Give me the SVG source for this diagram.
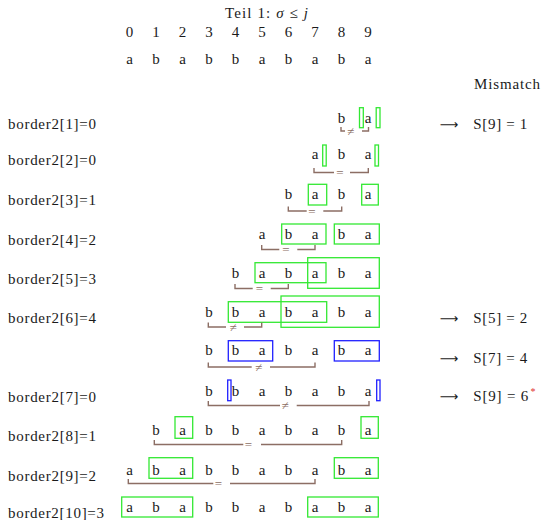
<svg xmlns="http://www.w3.org/2000/svg" width="541" height="520" viewBox="0 0 541 520">
<style>
text{font-family:"Liberation Serif","DejaVu Serif","Times New Roman",serif;fill:#1a1a1a;font-size:15px}
.c{text-anchor:middle}
.g{fill:none;stroke:#33e833;stroke-width:1.3}
.b{fill:none;stroke:#2020ff;stroke-width:1.3}
.br{fill:none;stroke:#8c6e64;stroke-width:1.4}
.sy{fill:#8c6e64;font-size:13px;text-anchor:middle}
.ar{text-anchor:middle;font-family:"DejaVu Sans",sans-serif;font-size:13px}
.st{fill:#e03030;font-size:10px}
</style>
<rect width="541" height="520" fill="#fff"/>
<g id="header">
<text x="266.5" y="18.3" class="c" textLength="83">Teil 1: <tspan font-style="italic">σ</tspan> ≤ <tspan font-style="italic">j</tspan></text>
<g class="idx">
<text x="129.5" y="37.3" class="c">0</text><text x="156" y="37.3" class="c">1</text><text x="182.5" y="37.3" class="c">2</text><text x="209" y="37.3" class="c">3</text><text x="235.5" y="37.3" class="c">4</text><text x="262" y="37.3" class="c">5</text><text x="288.5" y="37.3" class="c">6</text><text x="315" y="37.3" class="c">7</text><text x="341.5" y="37.3" class="c">8</text><text x="368" y="37.3" class="c">9</text>
</g>
<g class="txt">
<text x="129.5" y="64" class="c">a</text><text x="156" y="64" class="c">b</text><text x="182.5" y="64" class="c">a</text><text x="209" y="64" class="c">b</text><text x="235.5" y="64" class="c">b</text><text x="262" y="64" class="c">a</text><text x="288.5" y="64" class="c">b</text><text x="315" y="64" class="c">a</text><text x="341.5" y="64" class="c">b</text><text x="368" y="64" class="c">a</text>
</g>
<text x="540" y="88.5" text-anchor="end" textLength="66">Mismatch</text>
</g>

<g id="row1">
<text x="8" y="128.5" textLength="88">border2[1]=0</text>
<text x="341.5" y="122.5" class="c">b</text><text x="368" y="122.5" class="c">a</text>
<rect class="g" x="359.5" y="107.7" width="3.8" height="20"/>
<rect class="g" x="376.2" y="107.7" width="3.8" height="20"/>
<text x="449" y="128.5" class="ar">⟶</text><text x="473.3" y="128.5" textLength="54">S[9] = 1</text>
</g>

<g id="row2">
<text x="8" y="165" textLength="88">border2[2]=0</text>
<text x="315" y="159" class="c">a</text><text x="341.5" y="159" class="c">b</text><text x="368" y="159" class="c">a</text>
<rect class="g" x="322.7" y="145" width="3.5" height="21"/>
<rect class="g" x="375" y="145" width="3.5" height="21"/>
</g>

<g id="row3">
<text x="8" y="205" textLength="88">border2[3]=1</text>
<text x="288.5" y="199" class="c">b</text><text x="315" y="199" class="c">a</text><text x="341.5" y="199" class="c">b</text><text x="368" y="199" class="c">a</text>
<rect class="g" x="308.3" y="184.3" width="18.4" height="20.7"/>
<rect class="g" x="361.7" y="184.3" width="16.6" height="20.7"/>
</g>

<g id="row4">
<text x="8" y="245" textLength="88">border2[4]=2</text>
<text x="262" y="239" class="c">a</text><text x="288.5" y="239" class="c">b</text><text x="315" y="239" class="c">a</text><text x="341.5" y="239" class="c">b</text><text x="368" y="239" class="c">a</text>
<rect class="g" x="281.7" y="224" width="44.3" height="20"/>
<rect class="g" x="334.3" y="224" width="45" height="20"/>
</g>

<g id="row5">
<text x="8" y="283.5" textLength="88">border2[5]=3</text>
<text x="235.5" y="277.5" class="c">b</text><text x="262" y="277.5" class="c">a</text><text x="288.5" y="277.5" class="c">b</text><text x="315" y="277.5" class="c">a</text><text x="341.5" y="277.5" class="c">b</text><text x="368" y="277.5" class="c">a</text>
<rect class="g" x="255" y="262.7" width="71" height="20"/>
<rect class="g" x="307.7" y="257.7" width="71.6" height="30.6"/>
</g>

<g id="row6">
<text x="8" y="323" textLength="88">border2[6]=4</text>
<text x="209" y="317" class="c">b</text><text x="235.5" y="317" class="c">b</text><text x="262" y="317" class="c">a</text><text x="288.5" y="317" class="c">b</text><text x="315" y="317" class="c">a</text><text x="341.5" y="317" class="c">b</text><text x="368" y="317" class="c">a</text>
<rect class="g" x="228.3" y="301.7" width="98.4" height="20.6"/>
<rect class="g" x="281" y="296" width="98.3" height="31.3"/>
<text x="449" y="323" class="ar">⟶</text><text x="473.3" y="323" textLength="54">S[5] = 2</text>
</g>

<g id="row7">
<text x="209" y="355" class="c">b</text><text x="235.5" y="355" class="c">b</text><text x="262" y="355" class="c">a</text><text x="288.5" y="355" class="c">b</text><text x="315" y="355" class="c">a</text><text x="341.5" y="355" class="c">b</text><text x="368" y="355" class="c">a</text>
<rect class="b" x="228.3" y="340.7" width="44.4" height="20.3"/>
<rect class="b" x="334.3" y="340.7" width="45" height="20.3"/>
<text x="449" y="362.7" class="ar">⟶</text><text x="473.3" y="362.7" textLength="54">S[7] = 4</text>
</g>

<g id="row8">
<text x="8" y="401.5" textLength="88">border2[7]=0</text>
<text x="209" y="395.5" class="c">b</text><text x="235.5" y="395.5" class="c">b</text><text x="262" y="395.5" class="c">a</text><text x="288.5" y="395.5" class="c">b</text><text x="315" y="395.5" class="c">a</text><text x="341.5" y="395.5" class="c">b</text><text x="368" y="395.5" class="c">a</text>
<rect class="b" x="227.7" y="380" width="3.3" height="20.7"/>
<rect class="b" x="376.7" y="380" width="3.3" height="20.7"/>
<text x="449" y="400.7" class="ar">⟶</text><text x="473.3" y="400.7" textLength="55">S[9] = 6</text><text x="530.5" y="395" class="st">*</text>
</g>

<g id="row9">
<text x="8" y="440.5" textLength="88">border2[8]=1</text>
<text x="156" y="434.5" class="c">b</text><text x="182.5" y="434.5" class="c">a</text><text x="209" y="434.5" class="c">b</text><text x="235.5" y="434.5" class="c">b</text><text x="262" y="434.5" class="c">a</text><text x="288.5" y="434.5" class="c">b</text><text x="315" y="434.5" class="c">a</text><text x="341.5" y="434.5" class="c">b</text><text x="368" y="434.5" class="c">a</text>
<rect class="g" x="175" y="416.7" width="17.7" height="21.6"/>
<rect class="g" x="361" y="416.7" width="17.3" height="21.6"/>
</g>

<g id="row10">
<text x="8" y="480.5" textLength="88">border2[9]=2</text>
<text x="129.5" y="474.5" class="c">a</text><text x="156" y="474.5" class="c">b</text><text x="182.5" y="474.5" class="c">a</text><text x="209" y="474.5" class="c">b</text><text x="235.5" y="474.5" class="c">b</text><text x="262" y="474.5" class="c">a</text><text x="288.5" y="474.5" class="c">b</text><text x="315" y="474.5" class="c">a</text><text x="341.5" y="474.5" class="c">b</text><text x="368" y="474.5" class="c">a</text>
<rect class="g" x="149" y="457.7" width="43.7" height="20.6"/>
<rect class="g" x="334.3" y="457.7" width="44" height="20.6"/>
</g>

<g id="row11">
<text x="8" y="518" textLength="96">border2[10]=3</text>
<text x="129.5" y="512" class="c">a</text><text x="156" y="512" class="c">b</text><text x="182.5" y="512" class="c">a</text><text x="209" y="512" class="c">b</text><text x="235.5" y="512" class="c">b</text><text x="262" y="512" class="c">a</text><text x="288.5" y="512" class="c">b</text><text x="315" y="512" class="c">a</text><text x="341.5" y="512" class="c">b</text><text x="368" y="512" class="c">a</text>
<rect class="g" x="121.7" y="497" width="71" height="20"/>
<rect class="g" x="307.7" y="497" width="70.6" height="20"/>
</g>

<g id="connectors">
<path class="br" d="M341,127 V131 H345 M362,131 H368.5 V127"/><text class="sy" x="350.5" y="135.5">≠</text>
<path class="br" d="M314,168 V172.5 H334 M350,172.5 H368.3 V168"/><text class="sy" x="340" y="177">=</text>
<path class="br" d="M288.3,206.5 V211 H306.7 M323.3,211 H341.7 V206.5"/><text class="sy" x="312" y="215.5">=</text>
<path class="br" d="M261.7,245 V249.5 H279.3 M297.3,249.5 H315 V245"/><text class="sy" x="286" y="254">=</text>
<path class="br" d="M235,284 V288.5 H252.7 M270.7,288.5 H288.3 V284"/><text class="sy" x="259.5" y="293">=</text>
<path class="br" d="M208.3,322.5 V327 H226 M244,327 H261.7 V322.5"/><text class="sy" x="233" y="331.5">≠</text>
<path class="br" d="M208.3,362.5 V367 H251.7 M270,367 H315 V362.5"/><text class="sy" x="258.5" y="371.5">≠</text>
<path class="br" d="M208.3,401 V405.5 H280 M296.7,405.5 H369 V401"/><text class="sy" x="285" y="410">≠</text>
<path class="br" d="M154.3,440 V444.5 H243.3 M261,444.5 H341.7 V440"/><text class="sy" x="248.5" y="449">=</text>
<path class="br" d="M128.3,479 V483.5 H213.3 M230,483.5 H315 V479"/><text class="sy" x="218.5" y="488">=</text>
</g>
</svg>
